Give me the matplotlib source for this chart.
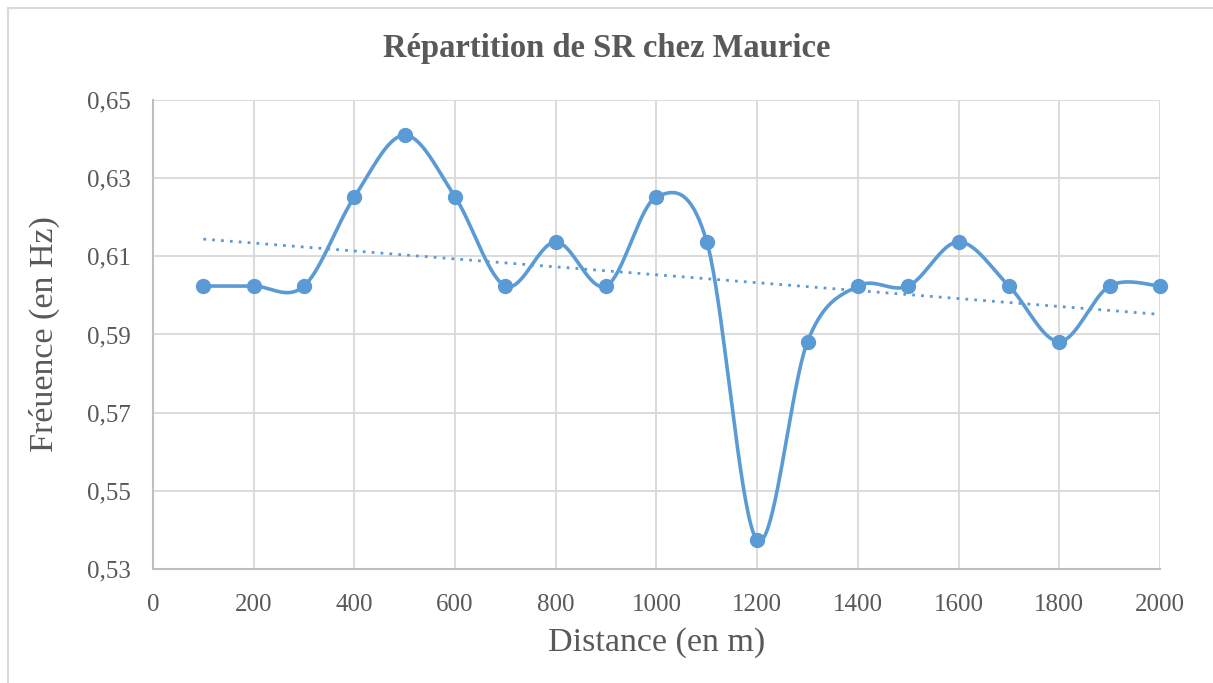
import numpy as np
import matplotlib.pyplot as plt
from matplotlib.ticker import FuncFormatter

# données
distances = [100, 200, 300, 400, 500, 600, 700, 800, 900, 1000,
             1100, 1200, 1300, 1400, 1500, 1600, 1700, 1800, 1900, 2000]
frequences = [0.6024, 0.6024, 0.6024, 0.6252, 0.6410, 0.6252, 0.6024, 0.6137, 0.6024, 0.6252,
              0.6137, 0.5374, 0.5882, 0.6024, 0.6024, 0.6137, 0.6024, 0.5882, 0.6024, 0.6024]
y_ticks = [0.53, 0.55, 0.57, 0.59, 0.61, 0.63, 0.65]
x_ticks = list(range(0, 2001, 200))

blue = "#5b9bd5"
text_color = "#595959"
font = ["Liberation Serif", "DejaVu Serif"]


def smooth(xs, ys, n=40):
    # lissage type Excel (Catmull-Rom / Bezier)
    x = np.asarray(xs, float)
    y = np.asarray(ys, float)
    px = np.concatenate([[x[0]], x, [x[-1]]])
    py = np.concatenate([[y[0]], y, [y[-1]]])
    out_x, out_y = [], []
    t = np.linspace(0, 1, n)
    for i in range(1, len(px) - 2):
        p0 = np.array([px[i], py[i]])
        p3 = np.array([px[i + 1], py[i + 1]])
        c1 = p0 + (np.array([px[i + 1], py[i + 1]]) - np.array([px[i - 1], py[i - 1]])) / 6
        c2 = p3 - (np.array([px[i + 2], py[i + 2]]) - np.array([px[i], py[i]])) / 6
        b = ((1 - t) ** 3)[:, None] * p0 + (3 * (1 - t) ** 2 * t)[:, None] * c1 \
            + (3 * (1 - t) * t ** 2)[:, None] * c2 + (t ** 3)[:, None] * p3
        out_x.extend(b[:, 0])
        out_y.extend(b[:, 1])
    return out_x, out_y


fig = plt.figure(figsize=(12.13, 6.83), dpi=100)
ax = fig.add_axes([0.1261, 0.1669, 0.8302, 0.6867])

sx, sy = smooth(distances, frequences)
ax.plot(sx, sy, color=blue, linewidth=2.6, zorder=3, clip_on=False)
ax.plot(distances, frequences, "o", color=blue, markersize=10, zorder=4, clip_on=False)

# courbe de tendance linéaire
a, b = np.polyfit(distances, frequences, 1)
tx = np.array([distances[0], distances[-1]])
ax.plot(tx, a * tx + b, color=blue, linewidth=2, linestyle=(0, (1, 2.2)), zorder=2)

ax.set_xlim(0, 2000)
ax.set_ylim(0.53, 0.65)
ax.set_xticks(x_ticks)
ax.set_yticks(y_ticks)
ax.yaxis.set_major_formatter(FuncFormatter(lambda v, p: f"{v:.2f}".replace(".", ",")))
ax.grid(True, color="#d9d9d9", linewidth=1.3)
ax.set_axisbelow(True)
for s in ["top", "right"]:
    ax.spines[s].set_visible(False)
for s in ["left", "bottom"]:
    ax.spines[s].set_color("#bfbfbf")
    ax.spines[s].set_linewidth(1.5)
ax.tick_params(length=0, labelsize=18, colors=text_color)
ax.tick_params(axis="x", pad=18)
ax.tick_params(axis="y", pad=16)
for lab in ax.get_xticklabels() + ax.get_yticklabels():
    lab.set_family(font)

ax.set_xlabel("Distance (en m)", fontsize=24.5, color=text_color, family=font, labelpad=8)
ax.set_ylabel("Fréuence (en Hz)", fontsize=24.5, color=text_color, family=font, labelpad=19)
fig.text(0.5, 0.929, "Répartition de SR chez Maurice", ha="center", va="center",
         fontsize=23.5, fontweight="bold", color=text_color, family=font)

# bordure du graphique
fig.add_artist(plt.Line2D([8 / 1213, 8 / 1213], [0, 1 - 8 / 683], color="#d9d9d9", linewidth=1.5))
fig.add_artist(plt.Line2D([8 / 1213, 1], [1 - 8 / 683, 1 - 8 / 683], color="#d9d9d9", linewidth=1.5))

plt.savefig("out.png", dpi=100)
